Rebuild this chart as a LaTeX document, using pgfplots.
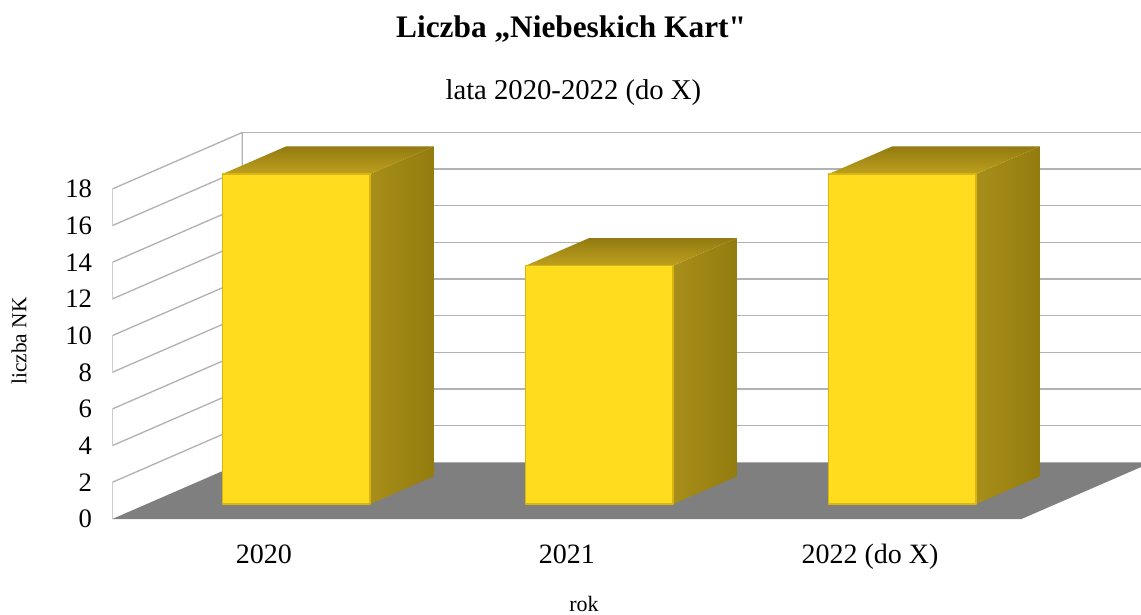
\documentclass[border=0pt]{standalone}
\usepackage{pgfplots}
\pgfplotsset{compat=1.18}
\usepackage{fontspec}
\setmainfont{Liberation Serif}[Ligatures=TeXOff]
\definecolor{gridc}{HTML}{B2B2B2}
\definecolor{floorc}{HTML}{7F7F7F}
\definecolor{frontc}{HTML}{FFDC1E}
\definecolor{bevelc}{HTML}{D6B614}
\definecolor{topback}{HTML}{927A10}
\definecolor{topfront}{HTML}{BEA01E}
\definecolor{sidel}{HTML}{A88E19}
\definecolor{sider}{HTML}{937C0F}
% oblique projection of the depth axis d (0 = front plane, 1 = back wall)
\newcommand\Dx{0.4289}
\newcommand\Dy{3.082}
\pgfplotsset{
  /pgfplots/table/obl/.style={
    x expr=\thisrow{x}+\Dx*\thisrow{d},
    y expr=\thisrow{z}+\Dy*\thisrow{d}},
  front/.style={fill=frontc, draw=bevelc, line width=1.2pt, line join=round},
  topf/.style={top color=topback, bottom color=topfront, draw=none},
  sidef/.style={left color=sidel, right color=sider, draw=none},
}
\begin{document}
\begin{tikzpicture}
\useasboundingbox (0,0) rectangle (855.75pt,460.5pt);
\clip (0,0) rectangle (855.75pt,460.5pt);
\begin{axis}[
  at={(84.2pt,71.25pt)}, anchor=south west,
  x=227.3pt, y=13.75pt,
  xmin=0, xmax=3.4289, ymin=0, ymax=21.082,
  axis line style={draw=none},
  major tick length=0pt,
  xtick={0.5,1.5,2.5},
  xticklabels={2020,2021,2022 (do X)},
  ytick={0,2,...,18},
  /pgf/number format/assume math mode=true,
  yticklabel style={anchor=east, inner sep=0pt, xshift=-15pt,
    font=\fontsize{20}{24}\selectfont},
  xticklabel style={anchor=base, inner sep=0pt, yshift=-33.4pt,
    font=\fontsize{21}{25}\selectfont},
]
% floor
\addplot[fill=floorc, draw=none] table[obl] {
x d z
0 0 0
3 0 0
3 1 0
0 1 0
} -- cycle;
% left wall: front edge, back edge and gridlines
\addplot[gridc, line width=1pt, mark=none] table[obl] {
x d z
0 0 0
0 0 2
0 1 2
0 1 4
0 0 4
0 0 6
0 1 6
0 1 8
0 0 8
0 0 10
0 1 10
0 1 12
0 0 12
0 0 14
0 1 14
0 1 16
0 0 16
0 0 18
0 1 18
0 1 0
};
% back wall gridlines
\addplot[gridc, line width=1pt, mark=none] table[obl] {
x d z
0 1 2
3 1 2
3 1 4
0 1 4
0 1 6
3 1 6
3 1 8
0 1 8
0 1 10
3 1 10
3 1 12
0 1 12
0 1 14
3 1 14
3 1 16
0 1 16
0 1 18
3 1 18
};
% ---- bar 2020: 18
\addplot[sidef] table[obl] {
x d z
0.737 0.265 0
0.737 0.755 0
0.737 0.755 18
0.737 0.265 18
} -- cycle;
\addplot[topf] table[obl] {
x d z
0.25 0.265 18
0.737 0.265 18
0.737 0.755 18
0.25 0.755 18
} -- cycle;
\addplot[front] table[obl] {
x d z
0.25 0.265 0
0.737 0.265 0
0.737 0.265 18
0.25 0.265 18
} -- cycle;
% ---- bar 2021: 13
\addplot[sidef] table[obl] {
x d z
1.737 0.265 0
1.737 0.755 0
1.737 0.755 13
1.737 0.265 13
} -- cycle;
\addplot[topf] table[obl] {
x d z
1.25 0.265 13
1.737 0.265 13
1.737 0.755 13
1.25 0.755 13
} -- cycle;
\addplot[front] table[obl] {
x d z
1.25 0.265 0
1.737 0.265 0
1.737 0.265 13
1.25 0.265 13
} -- cycle;
% ---- bar 2022 (do X): 18
\addplot[sidef] table[obl] {
x d z
2.737 0.265 0
2.737 0.755 0
2.737 0.755 18
2.737 0.265 18
} -- cycle;
\addplot[topf] table[obl] {
x d z
2.25 0.265 18
2.737 0.265 18
2.737 0.755 18
2.25 0.755 18
} -- cycle;
\addplot[front] table[obl] {
x d z
2.25 0.265 0
2.737 0.265 0
2.737 0.265 18
2.25 0.265 18
} -- cycle;
\end{axis}
\node[anchor=base, font=\bfseries\fontsize{23.5}{28}\selectfont] at (428.3pt,432.2pt) {Liczba „Niebeskich Kart"};
\node[anchor=base, font=\fontsize{21.5}{26}\selectfont] at (430pt,386pt) {lata 2020-2022 (do X)};
\node[rotate=90, font=\fontsize{16}{19}\selectfont] at (14.25pt,204.75pt) {liczba NK};
\node[anchor=base, font=\fontsize{16.5}{19}\selectfont] at (438pt,2pt) {rok};
\end{tikzpicture}
\end{document}
